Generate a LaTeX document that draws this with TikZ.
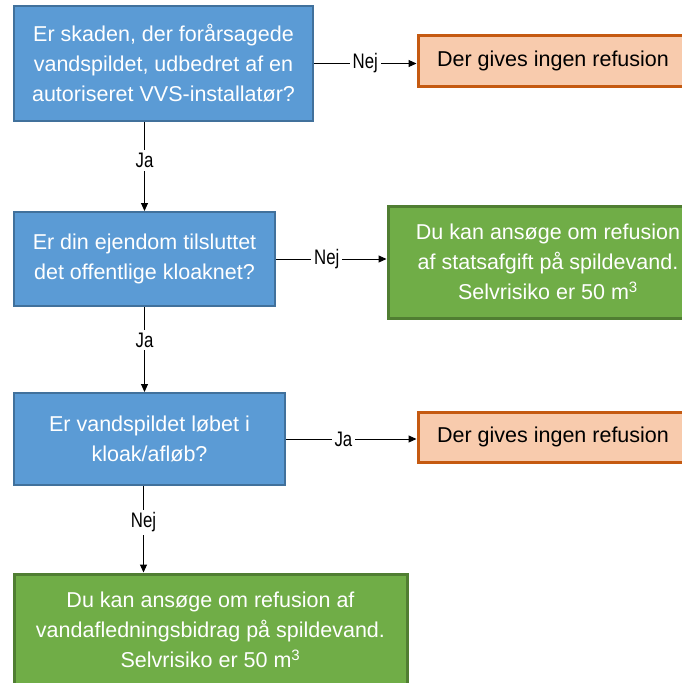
\documentclass[tikz,border=0pt]{standalone}
\usepackage{fontspec}
\setmainfont{Liberation Sans}
\newfontfamily\lblfont[FakeStretch=0.8]{Liberation Sans}
\usetikzlibrary{arrows.meta}
\definecolor{qfill}{HTML}{5B9BD5}
\definecolor{qline}{HTML}{41719C}
\definecolor{nofill}{HTML}{F8CBAD}
\definecolor{noline}{HTML}{C55A11}
\definecolor{okfill}{HTML}{70AD47}
\definecolor{okline}{HTML}{507E32}

\begin{document}
\begin{tikzpicture}[x=1pt, y=-1pt,
    box/.style = {draw, line width=2pt, align=center, inner sep=0pt, font=\fontsize{21.5}{30}\selectfont},
    question/.style = {box, fill=qfill, draw=qline, text=white},
    refusal/.style = {box, fill=nofill, draw=noline, line width=3pt, text=black},
    apply/.style = {box, fill=okfill, draw=okline, line width=3pt, text=white},
    lbl/.style = {fill=white, inner sep=3pt, text=black, font=\lblfont\fontsize{21}{22}\selectfont},
    every edge/.style = {draw, line width=1pt, -{Triangle[length=8pt,width=7pt]}}]
    \useasboundingbox (0,0) rectangle (681,683);

    \node[question, minimum width=299pt, minimum height=115pt] (q1) at (163.5,63.5) {Er skaden, der forårsagede\\vandspildet, udbedret af en\\autoriseret VVS-installatør?};
    \node[refusal, minimum width=270pt, minimum height=51pt] (r1) at (553,60.5) {Der gives ingen refusion};
    \node[question, minimum width=261pt, minimum height=94pt] (q2) at (144.5,259) {Er din ejendom tilsluttet\\det offentlige kloaknet?};
    \node[apply, minimum width=320pt, minimum height=112pt] (a2) at (548,262) {Du kan ansøge om refusion\\af statsafgift på spildevand.\\Selvrisiko er 50 m\textsuperscript{3}};
    \node[question, minimum width=271pt, minimum height=92pt] (q3) at (149.5,439) {Er vandspildet løbet i\\kloak/afløb?};
    \node[refusal, minimum width=270pt, minimum height=50pt] (r3) at (553,437) {Der gives ingen refusion};
    \node[apply, minimum width=393pt, minimum height=112pt] (a4) at (210.5,630) {Du kan ansøge om refusion af\\vandafledningsbidrag på spildevand.\\Selvrisiko er 50 m\textsuperscript{3}};

    \path
    (q1.east) edge node[lbl] {Nej} (q1.east -| r1.west)
    (q1.south -| q2.north) edge node[lbl, pos=0.43] {Ja} (q2.north)

    (q2.east) edge node[lbl, pos=0.46] {Nej} (q2.east -| a2.west)
    (q2.south) edge node[lbl, pos=0.39] {Ja} (q2.south |- q3.north)

    (q3.east) edge node[lbl, pos=0.44] {Ja} (q3.east -| r3.west)
    ([xshift=-6pt]q3.south) edge node[lbl, pos=0.42] {Nej} ([xshift=-6pt]q3.south |- a4.north)
    ;
\end{tikzpicture}
\end{document}
